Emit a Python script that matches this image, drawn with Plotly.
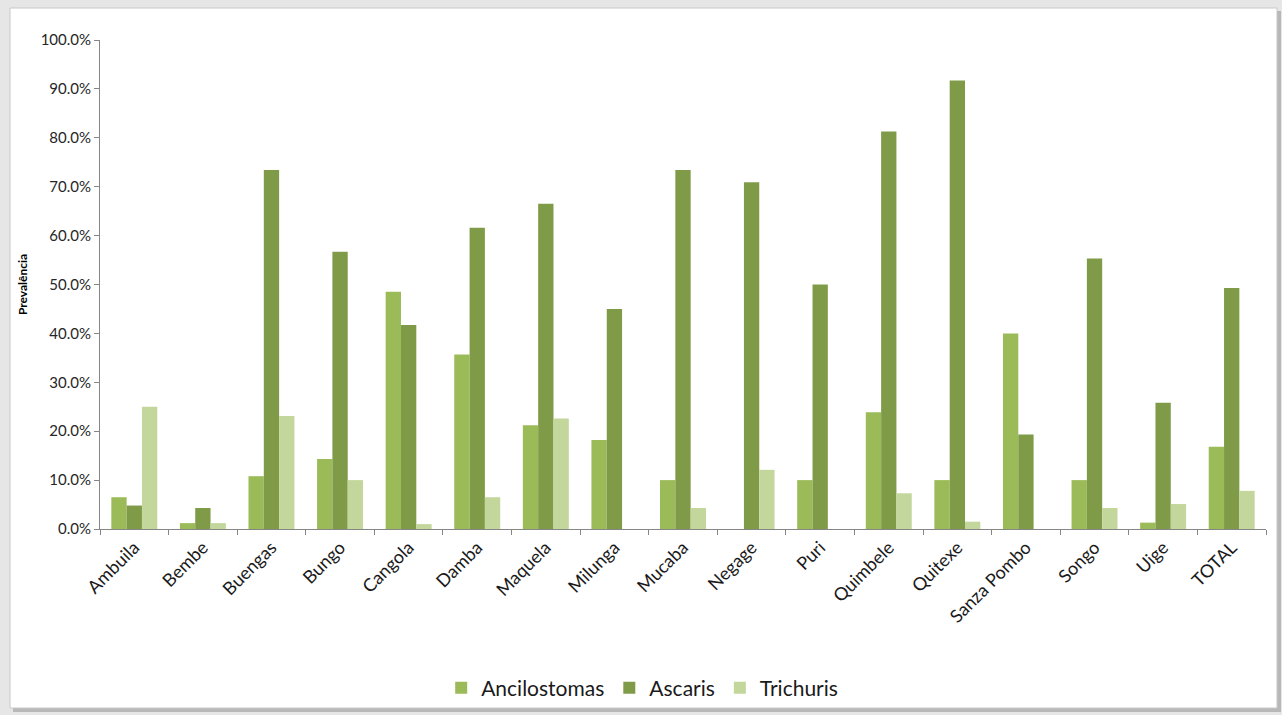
import plotly.graph_objects as go

categories = ["Ambuila", "Bembe", "Buengas", "Bungo", "Cangola", "Damba", "Maquela",
              "Milunga", "Mucaba", "Negage", "Puri", "Quimbele", "Quitexe",
              "Sanza Pombo", "Songo", "Uige", "TOTAL"]
ancilostomas = [6.5, 1.2, 10.8, 14.3, 48.5, 35.7, 21.2, 18.2, 10.0, 0.0, 10.0, 23.9, 10.0, 40.0, 10.0, 1.3, 16.8]
ascaris = [4.8, 4.3, 73.4, 56.7, 41.7, 61.6, 66.5, 45.0, 73.4, 70.9, 50.0, 81.3, 91.7, 19.3, 55.3, 25.8, 49.3]
trichuris = [25.0, 1.2, 23.1, 10.0, 1.0, 6.5, 22.6, 0.0, 4.3, 12.1, 0.0, 7.3, 1.5, 0.0, 4.3, 5.1, 7.8]
y_ticks = [0, 10, 20, 30, 40, 50, 60, 70, 80, 90, 100]

W, H = 1282, 715
L, R, T, B = 100, 16, 40, 186
pw, ph = W - L - R, H - T - B

def px(x):
    return (x - L) / pw

def py(y):
    return (H - B - y) / ph

fig = go.Figure()
series = [("Ancilostomas", ancilostomas, "#9BBB59"),
          ("Ascaris", ascaris, "#7F9B48"),
          ("Trichuris", trichuris, "#C3D69B")]
for name, vals, col in series:
    fig.add_trace(go.Bar(x=categories, y=[v / 100 for v in vals], name=name,
                         marker=dict(color=col, line=dict(width=0))))

shapes = [
    dict(type="rect", xref="paper", yref="paper", x0=px(0), x1=px(W), y0=py(H), y1=py(0),
         fillcolor="#e6e6e6", line=dict(width=0), layer="below"),
    dict(type="rect", xref="paper", yref="paper", x0=px(13), x1=px(1281), y0=py(712), y1=py(11),
         fillcolor="#b8b8b8", line=dict(width=0), layer="below"),
    dict(type="rect", xref="paper", yref="paper", x0=px(10), x1=px(1277), y0=py(708), y1=py(8),
         fillcolor="#ffffff", line=dict(color="#c8c8c8", width=1), layer="below"),
]

fig.update_layout(
    width=W, height=H,
    margin=dict(l=L, r=R, t=T, b=B, autoexpand=False),
    paper_bgcolor="#e6e6e6",
    plot_bgcolor="rgba(0,0,0,0)",
    barmode="group", bargap=0.33, bargroupgap=0,
    font=dict(family="Lato, Open Sans, sans-serif", color="#262626"),
    shapes=shapes,
    showlegend=True,
    legend=dict(orientation="h", x=0.465, xanchor="center", y=py(688), yanchor="middle",
                font=dict(size=21, color="#1a1a1a"), bgcolor="rgba(0,0,0,0)",
                itemwidth=30, traceorder="normal"),
    xaxis=dict(showline=True, linecolor="#868686", linewidth=1, ticks="outside",
               tickson="boundaries", ticklen=5, tickcolor="#868686", automargin=False,
               tickangle=-45, tickfont=dict(size=18, color="#1a1a1a"), showgrid=False),
    yaxis=dict(range=[0, 1], tickvals=[v / 100 for v in y_ticks], tickformat=".1%",
               showline=True, linecolor="#868686", linewidth=1, ticks="outside",
               ticklen=5, tickcolor="#868686", showgrid=False, zeroline=False, automargin=False,
               tickfont=dict(size=15, color="#262626"),
               title=dict(text="<b>Prevalência</b>", font=dict(size=12, color="#000000"), standoff=10)),
)

fig.write_html("out.html")
